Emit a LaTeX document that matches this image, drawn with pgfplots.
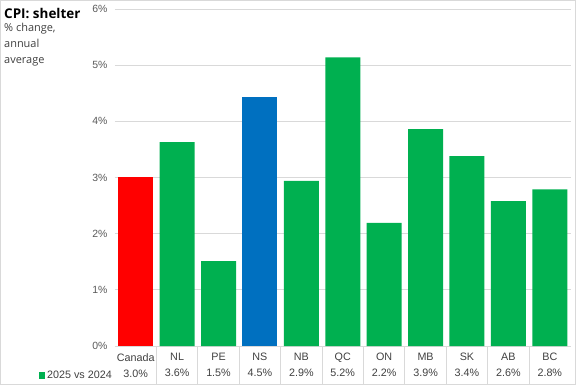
\documentclass[border=0pt]{standalone}
\usepackage{pgfplots}
\pgfplotsset{compat=1.18}
\usepackage{fontspec}
\setmainfont{Liberation Sans}
\newfontfamily\titlefont{Open Sans}
\definecolor{barRed}{HTML}{FF0000}
\definecolor{barGreen}{HTML}{00B050}
\definecolor{barBlue}{HTML}{0070C0}
\definecolor{gridc}{HTML}{D9D9D9}
\definecolor{txt}{HTML}{595959}
\definecolor{tbl}{HTML}{404040}
\begin{document}
\begin{tikzpicture}
\useasboundingbox (-115bp,-39bp) rectangle (461bp,346bp);
\draw[gridc,line width=0.8bp] (-114.6bp,-38.6bp) rectangle (460.6bp,345.6bp);
\begin{axis}[
  scale only axis,
  width=455.5bp, height=337bp,
  xmin=-0.5, xmax=10.5, ymin=0, ymax=6,
  enlargelimits=false,
  clip=false,
  ybar, bar width=35bp, bar shift=0pt,
  axis x line*=bottom, axis y line*=left,
  x axis line style={draw=gridc, line width=0.8bp},
  y axis line style={draw=none},
  xtick={0,...,10},
  xticklabels={{Canada\\[3.5pt]3.0\%},{NL\\[3.5pt]3.6\%},{PE\\[3.5pt]1.5\%},{NS\\[3.5pt]4.5\%},{NB\\[3.5pt]2.9\%},{QC\\[3.5pt]5.2\%},{ON\\[3.5pt]2.2\%},{MB\\[3.5pt]3.9\%},{SK\\[3.5pt]3.4\%},{AB\\[3.5pt]2.6\%},{BC\\[3.5pt]2.8\%}},
  xticklabel style={align=center, font=\fontsize{10.8}{12.5}\selectfont, text=tbl, yshift=0.5bp},
  xtick style={draw=none},
  ytick={0,1,...,6},
  yticklabel={\pgfmathprintnumber{\tick}\%},
  yticklabel style={font=\fontsize{10.5}{12}\selectfont, text=txt, xshift=-4bp},
  /pgf/number format/assume math mode=true,
  ytick style={draw=none},
  ymajorgrids, grid style={draw=gridc, line width=0.8bp},
]
\addplot[fill=barRed, draw=none] coordinates {(0,3.00)};
\addplot[fill=barGreen, draw=none] coordinates {(1,3.63) (2,1.51) (4,2.94) (5,5.14) (6,2.19) (7,3.86) (8,3.38) (9,2.58) (10,2.79)};
\addplot[fill=barBlue, draw=none] coordinates {(3,4.43)};
\pgfplotsinvokeforeach{0.5,1.5,...,9.5}{
  \draw[gridc, line width=0.8bp] (axis cs:#1,0) -- ([yshift=-38bp]axis cs:#1,0);
}
\end{axis}
\node[anchor=base east, inner sep=0pt, text=tbl, font=\fontsize{10.8}{12}\selectfont] at (-3bp,-32.5bp)
  {\tikz[baseline=0pt]\fill[barGreen] (0,0) rectangle (6.5bp,6.5bp);\,2025 vs 2024};
\node[anchor=base west, inner sep=0pt, font=\titlefont\bfseries\fontsize{13.5}{16}\selectfont] at (-111bp,327bp) {CPI: shelter};
\node[anchor=base west, inner sep=0pt, text=tbl, font=\titlefont\fontsize{11}{13}\selectfont] at (-111bp,314.5bp) {\% change,};
\node[anchor=base west, inner sep=0pt, text=tbl, font=\titlefont\fontsize{11}{13}\selectfont] at (-111bp,298.5bp) {annual};
\node[anchor=base west, inner sep=0pt, text=tbl, font=\titlefont\fontsize{11}{13}\selectfont] at (-111bp,282.5bp) {average};
\end{tikzpicture}
\end{document}
